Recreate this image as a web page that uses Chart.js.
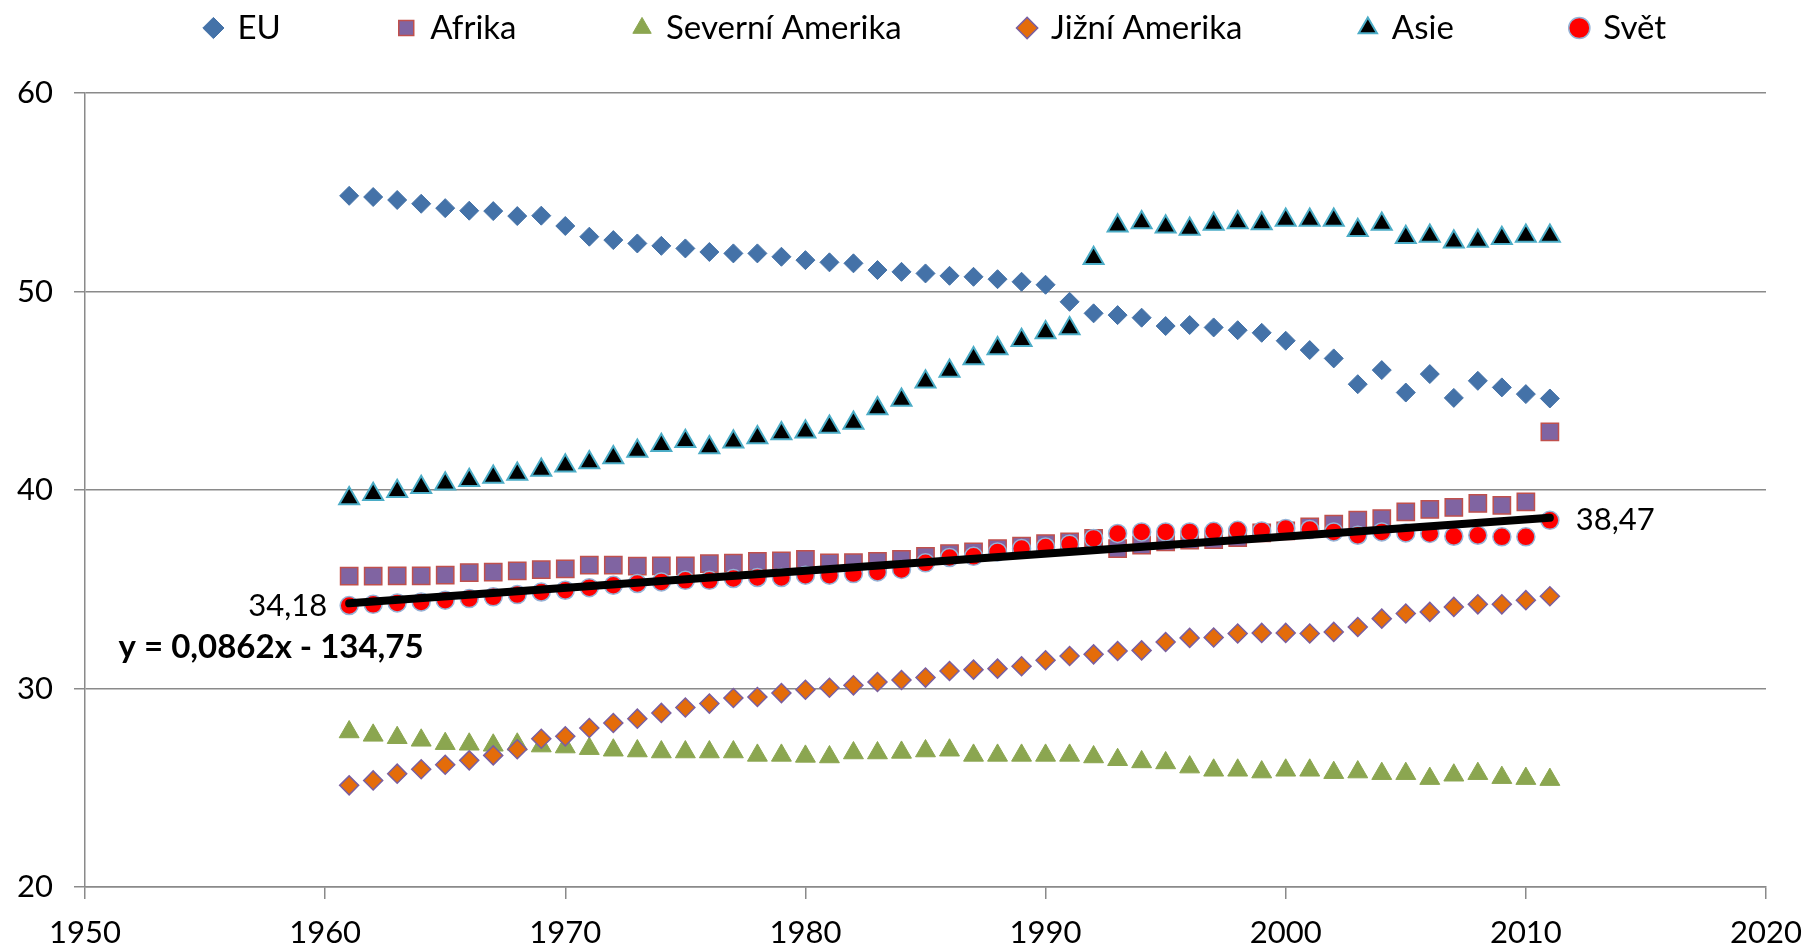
<!DOCTYPE html>
<html>
<head>
<meta charset="utf-8">
<script src="https://cdn.jsdelivr.net/npm/chart.js@4.4.1/dist/chart.umd.min.js"></script>
<style>
html,body{margin:0;padding:0;background:#ffffff;}
canvas{display:block;}
</style>
</head>
<body>
<canvas id="c" width="1810" height="949"></canvas>
<script>
const years = [1961,1962,1963,1964,1965,1966,1967,1968,1969,1970,
  1971,1972,1973,1974,1975,1976,1977,1978,1979,1980,
  1981,1982,1983,1984,1985,1986,1987,1988,1989,1990,
  1991,1992,1993,1994,1995,1996,1997,1998,1999,2000,
  2001,2002,2003,2004,2005,2006,2007,2008,2009,2010,2011];

const seriesNames = ['EU','Afrika','Severní Amerika','Jižní Amerika','Asie','Svět'];

const eu = [54.82,54.76,54.61,54.42,54.20,54.07,54.05,53.80,53.82,53.30,
  52.76,52.59,52.42,52.30,52.17,51.99,51.92,51.92,51.75,51.58,
  51.47,51.42,51.08,50.99,50.91,50.79,50.74,50.62,50.49,50.34,
  49.48,48.90,48.81,48.68,48.26,48.31,48.19,48.05,47.92,47.52,
  47.05,46.63,45.33,46.04,44.91,45.84,44.64,45.50,45.17,44.83,44.61];

const afrika = [35.66,35.66,35.68,35.68,35.71,35.84,35.86,35.92,35.99,36.03,
  36.21,36.21,36.16,36.18,36.18,36.29,36.32,36.41,36.43,36.51,
  36.33,36.34,36.41,36.50,36.66,36.80,36.88,37.05,37.17,37.30,
  37.39,37.56,37.05,37.22,37.39,37.47,37.50,37.60,37.84,37.94,
  38.14,38.28,38.48,38.56,38.90,39.02,39.12,39.32,39.23,39.40,42.93];

const severniAmerika = [27.81,27.64,27.52,27.39,27.22,27.19,27.14,27.19,27.10,27.05,
  26.97,26.89,26.85,26.80,26.80,26.80,26.80,26.63,26.63,26.58,
  26.55,26.75,26.75,26.78,26.85,26.89,26.63,26.63,26.63,26.63,
  26.63,26.55,26.41,26.30,26.25,26.04,25.88,25.88,25.79,25.88,
  25.88,25.76,25.79,25.71,25.71,25.46,25.63,25.71,25.51,25.46,25.41];

const jizniAmerika = [25.12,25.37,25.71,25.93,26.16,26.38,26.63,26.94,27.47,27.59,
  28.01,28.26,28.48,28.77,29.04,29.24,29.52,29.57,29.77,29.94,
  30.04,30.16,30.33,30.43,30.55,30.88,30.95,31.00,31.12,31.42,
  31.64,31.72,31.89,31.92,32.34,32.55,32.57,32.77,32.80,32.80,
  32.77,32.85,33.10,33.52,33.78,33.86,34.11,34.24,34.24,34.45,34.65];

const asie = [39.57,39.79,39.94,40.14,40.31,40.49,40.65,40.81,41.01,41.22,
  41.39,41.64,41.97,42.26,42.46,42.14,42.43,42.65,42.85,42.93,
  43.18,43.38,44.11,44.53,45.45,45.99,46.63,47.13,47.55,47.94,
  48.14,51.67,53.31,53.48,53.26,53.15,53.40,53.48,53.43,53.60,
  53.60,53.60,53.09,53.40,52.73,52.79,52.51,52.54,52.68,52.79,52.79];

const svet = [34.18,34.24,34.31,34.36,34.45,34.53,34.62,34.73,34.86,34.95,
  35.08,35.20,35.29,35.37,35.45,35.45,35.54,35.59,35.59,35.71,
  35.71,35.79,35.87,36.00,36.33,36.60,36.66,36.88,37.05,37.13,
  37.27,37.56,37.81,37.89,37.89,37.89,37.92,37.97,37.94,38.06,
  38.01,37.89,37.72,37.89,37.84,37.81,37.67,37.72,37.64,37.64,38.47];

const trendYears = [1961, 2011];
const trendValues = [34.29, 38.60];
const trendLabel = 'y = 0,0862x - 134,75';

const xTicks = [1950,1960,1970,1980,1990,2000,2010,2020];
const yTicks = [20,30,40,50,60];

const FONT = 'Lato';
const GRID = '#8a8a8a';
const LEGEND_PAD = 118;

function pts(vals){ return years.map((yr,i)=>({x:yr, y:vals[i]})); }
function fmt(v){ return v.toFixed(2).replace('.', ','); }

const allSeries = [eu, afrika, severniAmerika, jizniAmerika, asie, svet];
const styles = [
  {ps:'rectRot',  r:9.5,  bg:'#4472A8', bc:'#4472A8', bw:1},
  {ps:'rect',     r:12.2, bg:'#8064A2', bc:'#C0504D', bw:1.5},
  {ps:'triangle', r:11.5, bg:'#8BA650', bc:'#8BA650', bw:1},
  {ps:'rectRot',  r:9.5,  bg:'#E46C0A', bc:'#7A5FA0', bw:1.5},
  {ps:'triangle', r:11.5, bg:'#000000', bc:'#4BACC6', bw:2},
  {ps:'circle',   r:9,    bg:'#FF0000', bc:'#95B3D7', bw:1.5}
];

const datasets = allSeries.map((vals, i) => ({
  label: seriesNames[i],
  data: pts(vals),
  pointStyle: styles[i].ps,
  pointRadius: styles[i].r,
  pointBackgroundColor: styles[i].bg,
  pointBorderColor: styles[i].bc,
  pointBorderWidth: styles[i].bw,
  backgroundColor: styles[i].bg,
  borderColor: styles[i].bc,
  borderWidth: styles[i].bw,
  showLine: false,
  order: 7 - i
}));

datasets.push({
  label: 'Trend',
  data: trendYears.map((yr,i)=>({x:yr, y:trendValues[i]})),
  showLine: true,
  borderColor: '#000000',
  backgroundColor: '#000000',
  borderWidth: 8,
  borderCapStyle: 'round',
  pointRadius: 0,
  order: 0
});

const labelPlugin = {
  id: 'valueLabels',
  afterDatasetsDraw(chart) {
    const ctx = chart.ctx;
    const meta = chart.getDatasetMeta(5);
    const first = meta.data[0];
    const last = meta.data[meta.data.length - 1];
    ctx.save();
    ctx.fillStyle = '#000000';
    ctx.textBaseline = 'middle';
    ctx.font = '31px ' + FONT;
    ctx.textAlign = 'right';
    ctx.fillText(fmt(svet[0]), first.x - 22, first.y);
    ctx.textAlign = 'left';
    ctx.fillText(fmt(svet[svet.length - 1]), last.x + 26, last.y);
    ctx.font = 'bold 33px ' + FONT;
    const xs = chart.scales.x, ys = chart.scales.y;
    ctx.fillText(trendLabel, xs.getPixelForValue(1951.4), ys.getPixelForValue(32.05));
    ctx.restore();
  }
};

function draw() {
  Chart.defaults.font.family = FONT;
  new Chart(document.getElementById('c'), {
    type: 'scatter',
    data: { datasets },
    plugins: [labelPlugin],
    options: {
      responsive: false,
      animation: false,
      events: [],
      layout: { padding: { top: 11.5 - LEGEND_PAD, left: 0, right: -62, bottom: 0 } },
      plugins: {
        tooltip: { enabled: false },
        title: {
          display: true,
          text: '',
          weight: 500,
          font: { size: 1, lineHeight: 1 },
          padding: { top: 37.5, bottom: 0 }
        },
        legend: {
          position: 'top',
          align: 'center',
          fullSize: true,
          weight: 1000,
          labels: {
            usePointStyle: true,
            boxWidth: 15,
            boxHeight: 15,
            padding: LEGEND_PAD,
            color: '#000000',
            font: { size: 33, family: FONT },
            filter: (item) => item.datasetIndex < 6,
            sort: (a, b) => a.datasetIndex - b.datasetIndex
          }
        }
      },
      scales: {
        x: {
          type: 'linear',
          min: 1950,
          max: 2020,
          afterBuildTicks: (s) => { s.ticks = xTicks.map(v => ({ value: v })); },
          afterFit: (s) => { s.height = 62; s.paddingRight = 44; },
          ticks: {
            color: '#000000',
            font: { size: 31, family: FONT },
            padding: 15,
            maxRotation: 0,
            autoSkip: false,
            callback: (v) => String(v)
          },
          grid: { drawOnChartArea: false, drawTicks: true, tickLength: 12, color: GRID, lineWidth: 1.5 },
          border: { display: true, color: GRID, width: 1.5 }
        },
        y: {
          type: 'linear',
          min: 20,
          max: 60,
          afterBuildTicks: (s) => { s.ticks = yTicks.map(v => ({ value: v })); },
          afterFit: (s) => { s.width = 85; },
          ticks: {
            color: '#000000',
            font: { size: 31, family: FONT },
            padding: 21,
            callback: (v) => String(v)
          },
          grid: { drawTicks: true, tickLength: 11, color: GRID, lineWidth: 1.5 },
          border: { display: true, color: GRID, width: 1.5 }
        }
      }
    }
  });
}

if (document.fonts && document.fonts.load) {
  Promise.all([document.fonts.load('31px Lato'), document.fonts.load('bold 33px Lato')]).then(draw, draw);
} else { draw(); }
</script>
</body>
</html>
